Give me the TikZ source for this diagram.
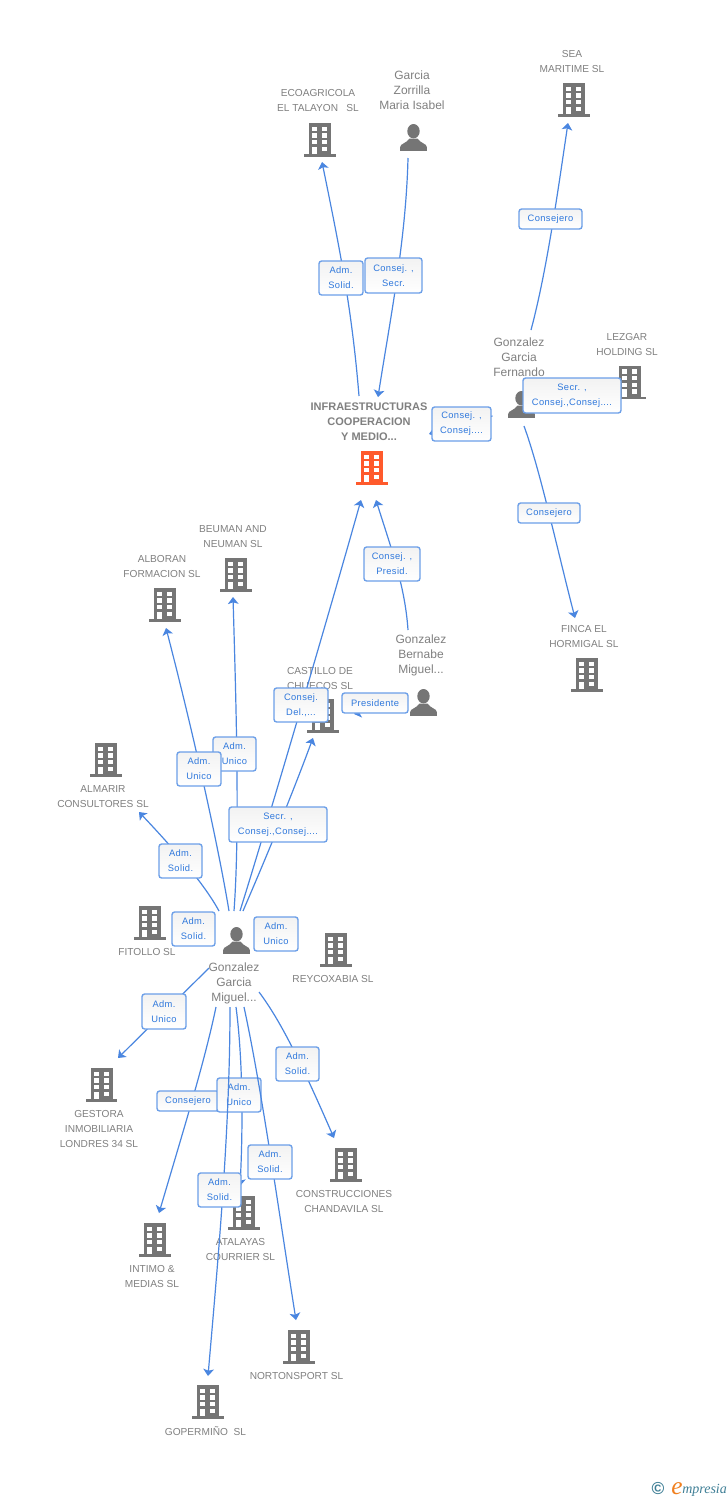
\documentclass[tikz,border=0pt]{standalone}
\usepackage{fontspec}
\usetikzlibrary{arrows.meta,calc}
\setmainfont{Liberation Sans}
\newfontfamily\lblf[LetterSpace=4]{Liberation Sans}
\newfontfamily\logof{Liberation Serif}
\definecolor{edgeblue}{HTML}{4A86E0}
\definecolor{lblborder}{HTML}{6C9FE8}
\definecolor{lbltext}{HTML}{2F78DC}
\definecolor{icongray}{HTML}{757575}
\definecolor{txtgray}{HTML}{808080}
\definecolor{mainorange}{HTML}{FF5A2C}
\definecolor{logoteal}{HTML}{3F7F96}
\definecolor{logoorange}{HTML}{F08020}
\tikzset{
  edgeline/.style={draw=edgeblue,line width=0.9pt,-{Stealth[length=5.2pt,width=8pt,inset=1.2pt]}},
  lbl/.style 2 args={draw=lblborder,line width=1.05pt,rounded corners=2pt,top color=black!5,bottom color=white,
     minimum width=#1*0.75pt,minimum height=#2*0.75pt,inner sep=0pt,align=center,text=lbltext,
     font=\lblf\fontsize{7}{11.25}\selectfont},
  txt/.style={text=txtgray,align=center,inner sep=0pt,font=\fontsize{7.6}{11.25}\selectfont},
  ptxt/.style={text=txtgray,align=center,inner sep=0pt,font=\fontsize{9}{11.25}\selectfont},
  maintxt/.style={text=txtgray,align=center,inner sep=0pt,font=\bfseries\fontsize{8.25}{11.25}\selectfont},
  iconbox/.style={inner sep=0pt,minimum width=24pt,minimum height=25pt},
}
\newcommand{\bldg}[4]{%
  \node[iconbox] (#1) at (#2,#3) {};
  \begin{scope}[shift={(#2,#3)}]
    \fill[#4] (-11,-16.7) rectangle (11,14);
    \fill[#4] (-15.8,14) rectangle (15.8,16.7);
    \foreach \yy in {-13.4,-6.7,0,6.6}{
      \fill[white] (-7.7,\yy) rectangle (-2.7,\yy+4.4);
      \fill[white] (2.3,\yy) rectangle (7.3,\yy+4.4);
    }
    \fill[white] (-7.7,6.6) rectangle (-2.7,14);
  \end{scope}}
\newcommand{\persona}[3]{%
  \node[iconbox] (#1) at (#2,#3) {};
  \begin{scope}[shift={(#2,#3)}]
    \fill[icongray] (0,-6.3) ellipse [x radius=6.2,y radius=7.2];
    \fill[icongray] (-13.3,13.3) -- (-13.3,9.5) .. controls (-13.3,6) and (-7,6) .. (-4,1) -- (4,1)
       .. controls (7,6) and (13.3,6) .. (13.3,9.5) -- (13.3,13.3) -- cycle;
  \end{scope}}
\newcommand{\lb}[6]{\node[lbl={\numexpr#3-#2\relax}{\numexpr#5-#4\relax}] (#1) at ({(#2+#3)/2},{(#4+#5)/2}) {#6};}
\begin{document}
\begin{tikzpicture}[x=0.75pt,y=-0.75pt]
\useasboundingbox (0,0) rectangle (728,1500);
\fill[white] (0,0) rectangle (728,1500);
% icons
\bldg{eco}{320}{140}{icongray}
\bldg{sea}{574}{100}{icongray}
\bldg{lez}{630}{382.5}{icongray}
\bldg{infra}{372}{468}{mainorange}
\bldg{beu}{236}{575}{icongray}
\bldg{alb}{165}{605}{icongray}
\bldg{cast}{323}{716}{icongray}
\bldg{alm}{106}{760}{icongray}
\bldg{fit}{150}{923}{icongray}
\bldg{rey}{336}{950}{icongray}
\bldg{ges}{101.5}{1085}{icongray}
\bldg{con}{346}{1165}{icongray}
\bldg{ata}{244}{1213}{icongray}
\bldg{int}{155}{1240}{icongray}
\bldg{nor}{299}{1347}{icongray}
\bldg{gop}{208}{1402}{icongray}
\bldg{fin}{587}{675}{icongray}
\persona{gz}{413.5}{137.5}
\persona{fern}{521.5}{404.5}
\persona{bern}{423.5}{702.5}
\persona{hub}{236.5}{940.5}
% texts
\node[txt] (teco) at (318,101) {ECOAGRICOLA\\EL TALAYON\ \ \hspace{2pt}SL};
\node[ptxt] (tgz) at (412,90) {Garcia\\Zorrilla\\Maria Isabel};
\node[txt] (tsea) at (572,62) {SEA\\MARITIME SL};
\node[ptxt] (tfern) at (519,357) {Gonzalez\\Garcia\\Fernando};
\node[txt] (tlez) at (627,345) {LEZGAR\\HOLDING SL};
\node[maintxt] (tinfra) at (369,421.5) {INFRAESTRUCTURAS\\COOPERACION\\Y MEDIO...};
\node[txt] (tbeu) at (233,536.5) {BEUMAN AND\\NEUMAN SL};
\node[txt] (talb) at (162,566.5) {ALBORAN\\FORMACION SL};
\node[txt] (tcast) at (320,678.5) {CASTILLO DE\\CHUECOS SL};
\node[ptxt] (tbern) at (421,655) {Gonzalez\\Bernabe\\Miguel...};
\node[txt] (talm) at (103,796.5) {ALMARIR\\CONSULTORES SL};
\node[txt] (tfit) at (147,952) {FITOLLO SL};
\node[ptxt] (thub) at (234,983) {Gonzalez\\Garcia\\Miguel...};
\node[txt] (trey) at (333,979) {REYCOXABIA SL};
\node[txt] (tges) at (99,1129) {GESTORA\\INMOBILIARIA\\LONDRES 34 SL};
\node[txt] (tcon) at (344,1201.5) {CONSTRUCCIONES\\CHANDAVILA SL};
\node[txt] (tata) at (240.5,1249.5) {ATALAYAS\\COURRIER SL};
\node[txt] (tint) at (152,1276.5) {INTIMO \&\\MEDIAS SL};
\node[txt] (tnor) at (296.5,1376) {NORTONSPORT SL};
\node[txt] (tgop) at (205.5,1431) {GOPERMIÑO\ \ SL};
\node[txt] (tfin) at (584,636.5) {FINCA EL\\HORMIGAL SL};
% upper connectors and labels
\draw[edgeline] ($(infra)+(-13,-72)$) .. controls (352,310) and (340,250) .. ($(eco)+(2,22)$);
\lb{l1}{319}{363}{261}{295}{Adm.\\Solid.}
\draw[edgeline] ($(gz)+(-5.5,20.5)$) .. controls (406,240) and (390,320) .. ($(infra)+(6,-71)$);
\lb{l2}{365}{422}{258}{293}{Consej. ,\\Secr.}
\draw[edgeline] ($(fern)+(9.5,-74.5)$) .. controls (547,270) and (558,190) .. ($(sea)+(-6,23)$);
\lb{l3}{519}{582}{209}{229}{Consejero}
\draw[edgeline] ($(fern)+(-29,11.5)$) .. controls (470,420) and (450,428) .. ($(infra)+(57,-34)$);
\lb{l4}{432}{491}{407}{441}{Consej. ,\\Consej....}
\lb{l5}{523}{621}{378}{413}{Secr. ,\\Consej.,Consej....}
\draw[edgeline] ($(fern)+(2.5,21.5)$) .. controls (540,470) and (555,540) .. ($(fin)+(-12,-57)$);
\lb{l6}{518}{580}{503}{523}{Consejero}
\draw[edgeline] ($(bern)+(-15.5,-72.5)$) .. controls (405,585) and (390,545) .. ($(infra)+(4,32)$);
\lb{l7}{364}{420}{547}{581}{Consej. ,\\Presid.}
\draw[edgeline] ($(bern)+(-15.5,-2.5)$) .. controls (390,708) and (370,710) .. ($(cast)+(31,-2)$);
\lb{l8}{342}{408}{693}{713}{Presidente}
% hub connectors and labels
\draw[edgeline] ($(hub)+(3.5,-29.5)$) .. controls (270,815) and (330,610) .. ($(infra)+(-11,32)$);
\lb{l9}{274}{328}{688}{722}{Consej.\\Del.,...}
\draw[edgeline] ($(hub)+(-2.5,-29.5)$) .. controls (240,830) and (236,700) .. ($(beu)+(-3,22)$);
\lb{l10}{213}{256}{737}{771}{Adm.\\Unico}
\draw[edgeline] ($(hub)+(-7.5,-29.5)$) .. controls (219,850) and (195,740) .. ($(alb)+(1,23)$);
\lb{l11}{177}{221}{752}{786}{Adm.\\Unico}
\draw[edgeline] ($(hub)+(6.5,-29.5)$) .. controls (265,860) and (290,800) .. ($(cast)+(-10,22)$);
\lb{l12}{229}{327}{807}{842}{Secr. ,\\Consej.,Consej....}
\draw[edgeline] ($(hub)+(-17.5,-29.5)$) .. controls (205,885) and (175,850) .. ($(alm)+(33,52)$);
\lb{l13}{159}{202}{844}{878}{Adm.\\Solid.}
\lb{l14}{172}{215}{912}{946}{Adm.\\Solid.}
\lb{l15}{254}{298}{917}{951}{Adm.\\Unico}
\draw[edgeline] ($(hub)+(-27.5,27.5)$) -- ($(ges)+(16.5,-27)$);
\lb{l16}{142}{186}{994}{1029}{Adm.\\Unico}
\draw[edgeline] ($(hub)+(-20.5,66.5)$) .. controls (205,1060) and (185,1125) .. ($(int)+(4,-27)$);
\lb{l17}{157}{219}{1091}{1111}{Consejero}
\draw[edgeline] ($(hub)+(-0.5,66.5)$) .. controls (243,1060) and (243,1130) .. ($(ata)+(-4,-27)$);
\lb{l18}{217}{261}{1078}{1112}{Adm.\\Unico}
\draw[edgeline] ($(hub)+(22.5,51.5)$) .. controls (280,1020) and (300,1060) .. ($(con)+(-12,-27)$);
\lb{l19}{276}{319}{1047}{1081}{Adm.\\Solid.}
\draw[edgeline] ($(hub)+(7.5,66.5)$) .. controls (262,1090) and (280,1220) .. ($(nor)+(-3,-27)$);
\lb{l20}{248}{292}{1145}{1179}{Adm.\\Solid.}
\draw[edgeline] ($(hub)+(-6.5,66.5)$) .. controls (230,1130) and (218,1260) .. ($(gop)+(0,-26)$);
\lb{l21}{198}{241}{1173}{1207}{Adm.\\Solid.}
% logo
\node[inner sep=0pt,text=logoteal,font=\bfseries\fontsize{13}{14}\selectfont] (logoc) at (658,1488) {©};
\node[inner sep=0pt,anchor=base west,font=\logof\itshape\fontsize{10.5}{12}\selectfont,text=logoteal] (logot) at (682,1493) {mpresia};
\node[inner sep=0pt,anchor=base east,font=\logof\itshape\fontsize{19}{19}\selectfont,text=logoorange] (logoe) at (683,1494) {e};
\end{tikzpicture}
\end{document}
